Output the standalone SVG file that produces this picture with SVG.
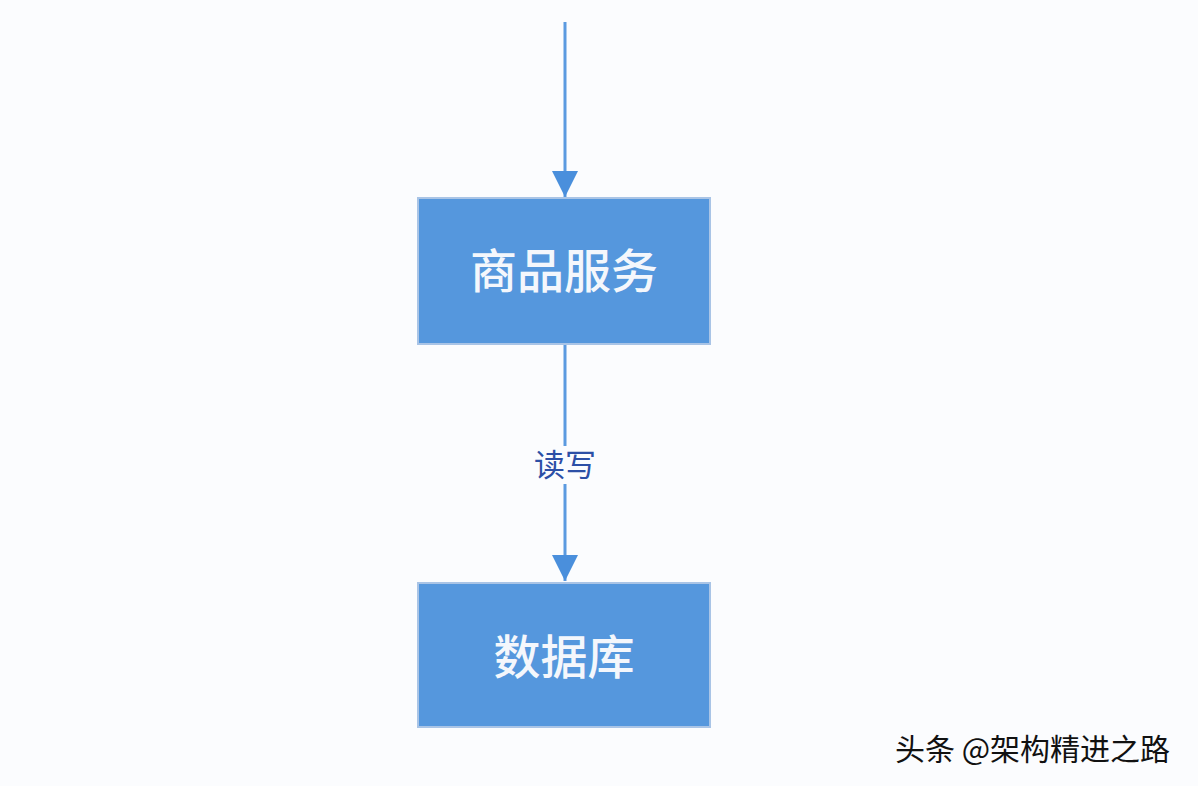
<svg xmlns="http://www.w3.org/2000/svg" width="1198" height="786" viewBox="0 0 1198 786">
<style>
.box{fill:#5597dd;stroke:#a9c4e6;stroke-width:2}
.lbl{font-family:"Noto Sans CJK SC",sans-serif;font-size:47px;font-weight:500;fill:#f4f7fc;text-anchor:middle}
.edge{stroke:#5b9ae0;stroke-width:3;fill:none}
.el{font-family:"Noto Sans CJK SC",sans-serif;font-size:31px;fill:#2c4fa6;text-anchor:middle}
.wm{font-family:"Noto Sans CJK SC",sans-serif;font-size:30px;fill:#111}
</style>
<defs>
<marker id="ah" viewBox="0 0 26 28" refX="26" refY="13" markerWidth="26" markerHeight="28" markerUnits="userSpaceOnUse" orient="auto">
<path d="M0,0 L26,13 L0,26 Z" fill="#4a8fdc"/>
</marker>
</defs>
<rect width="1198" height="786" fill="#fbfcfe"/>
<g id="connectors">
<line class="edge" x1="565" y1="22" x2="565" y2="197" marker-end="url(#ah)"/>
<line class="edge" x1="565" y1="345" x2="565" y2="446"/>
<line class="edge" x1="565" y1="484" x2="565" y2="581" marker-end="url(#ah)"/>
<text class="el" x="565" y="476">读写</text>
</g>
<g id="node-service">
<rect class="box" x="418" y="198" width="292" height="146"/>
<text class="lbl" x="564" y="288">商品服务</text>
</g>
<g id="node-db">
<rect class="box" x="418" y="583" width="292" height="144"/>
<text class="lbl" x="564" y="674">数据库</text>
</g>
<text class="wm" x="895" y="760">头条 @架构精进之路</text>
</svg>
